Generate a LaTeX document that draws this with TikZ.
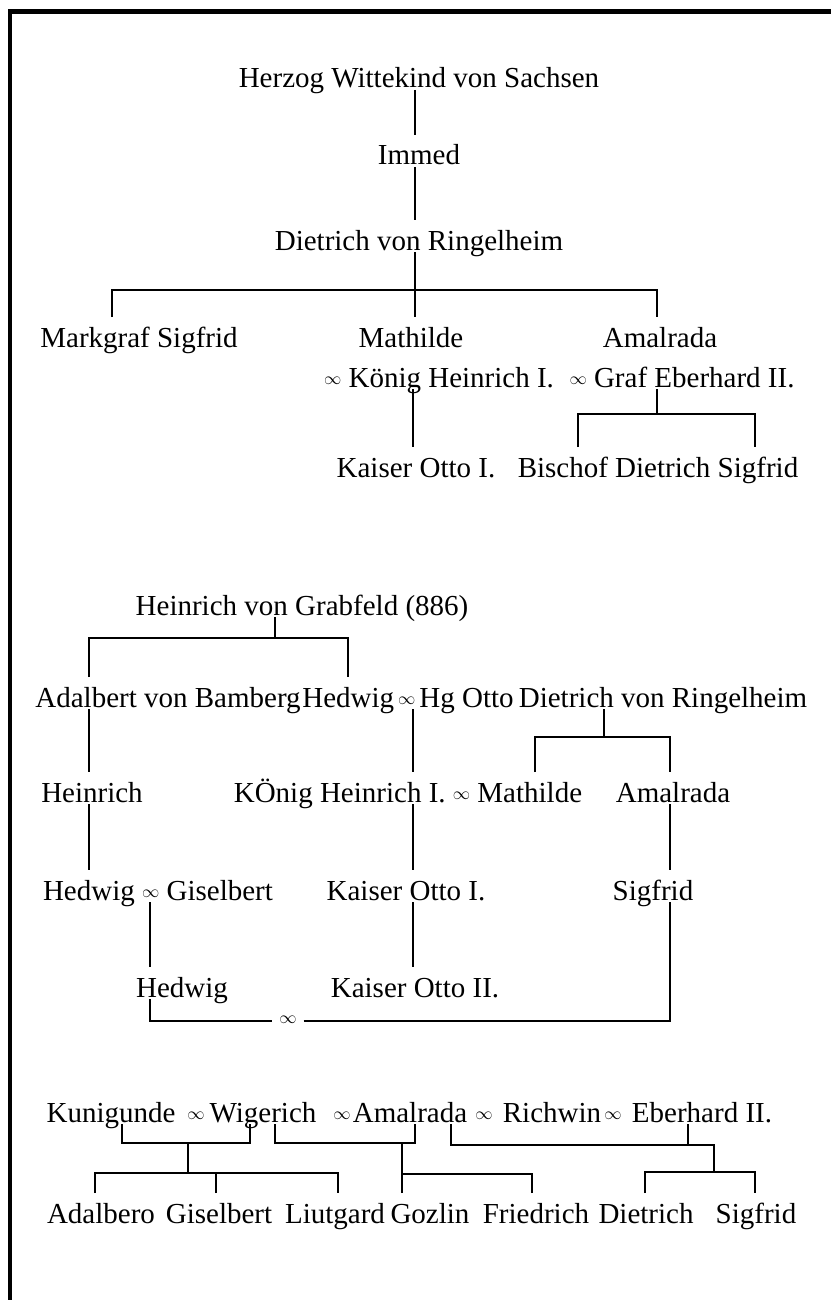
\documentclass[tikz,border=0pt]{standalone}
\usepackage{fontspec}
\setmainfont{Liberation Serif}
\usepackage{tikz}

\newcommand{\marr}{\raisebox{2.5pt}{\fontsize{19pt}{19pt}\selectfont$\infty$}}

\begin{document}
\begin{tikzpicture}[x=1pt, y=-1pt, font=\fontsize{29pt}{34pt}\selectfont,
  person/.style={inner sep=0pt, outer sep=0pt, anchor=base, text height=30pt, text depth=2pt},
  sign/.style={inner sep=0pt, outer xsep=7pt},
  tie/.style={line width=2.8pt}]
  \useasboundingbox (0,0) rectangle (831,1300);
  % frame
  \draw[line width=4.5pt] (10,1300) -- (10,11.5) -- (831,11.5);
  % tree one : Wittekind
  \node[person] (herzog) at (419,88) {Herzog Wittekind von Sachsen};
  \node[person] (immed) at (419,165) {Immed};
  \node[person] (dietrichA) at (419,250) {Dietrich von Ringelheim};
  \node[person] (markgraf) at (139,347) {Markgraf Sigfrid};
  \node[person] (mathilde) at (411,347) {Mathilde};
  \node[person] (amalradaA) at (660,347) {Amalrada};
  \node[person] (koenigA) at (439,387) {\marr\ König Heinrich I.};
  \node[person] (eberhardA) at (682,387) {\marr\ Graf Eberhard II.};
  \node[person] (ottoA) at (416,477) {Kaiser Otto I.};
  \node[person] (bischof) at (614,477) {Bischof Dietrich};
  \node[person] (sigfridA) at (758,477) {Sigfrid};
  \draw[tie] ([xshift=-4pt]herzog.south) -- ([xshift=-4pt]immed.north);
  \draw[tie] ([xshift=-4pt]immed.south) -- ([xshift=-4pt]dietrichA.north);
  \draw[tie] ([xshift=-4pt]dietrichA.south) -- ++(0,38) coordinate (jA);
  \draw[tie] ([xshift=-27pt]markgraf.north) |- (jA) -| ([xshift=-3pt]amalradaA.north);
  \draw[tie] (jA) -- ([xshift=4pt]mathilde.north);
  \draw[tie] ([xshift=-26pt]koenigA.south) -- ([xshift=-3pt]ottoA.north);
  \draw[tie] ([xshift=-25pt]eberhardA.south) -- ++(0,25) coordinate (jB);
  \draw[tie] ([xshift=-36pt]bischof.north) |- (jB) -| ([xshift=-3pt]sigfridA.north);
  % tree two : Grabfeld
  \node[person] (grabfeld) at (302,615) {Heinrich von Grabfeld (886)};
  \node[person] (adalbert) at (168,707) {Adalbert von Bamberg};
  \node[person] (hedwigA) at (408,707) {Hedwig\hspace{4pt}\marr\hspace{4pt}Hg Otto};
  \node[person] (dietrichB) at (663,707) {Dietrich von Ringelheim};
  \node[person] (heinrichB) at (92,802) {Heinrich};
  \node[person] (koenigB) at (408,802) {KÖnig Heinrich I. \marr\ Mathilde};
  \node[person] (amalradaB) at (673,802) {Amalrada};
  \node[person] (hedwigB) at (158,900) {Hedwig \marr\ Giselbert};
  \node[person] (ottoB) at (406,900) {Kaiser Otto I.};
  \node[person] (sigfridB) at (653,900) {Sigfrid};
  \node[person] (hedwigC) at (182,997) {Hedwig};
  \node[person] (ottoC) at (415,997) {Kaiser Otto II.};
  \node[sign] (m0) at (288,1021) {\marr};
  \draw[tie] ([xshift=-27pt]grabfeld.south) -- ++(0,21) coordinate (jC);
  \draw[tie] ([xshift=-79pt]adalbert.north) |- (jC) -| ([xshift=-60pt]hedwigA.north);
  \draw[tie] ([xshift=-79pt]adalbert.south) -- ([xshift=-3pt]heinrichB.north);
  \draw[tie] ([xshift=5pt]hedwigA.south) -- ([xshift=5pt]koenigB.north);
  \draw[tie] ([xshift=-59pt]dietrichB.south) -- ++(0,28) coordinate (jJ);
  \draw[tie] ([xshift=127pt]koenigB.north) |- (jJ) -| ([xshift=-3pt]amalradaB.north);
  \draw[tie] ([xshift=-3pt]heinrichB.south) -- ([xshift=-69pt]hedwigB.north);
  \draw[tie] ([xshift=5pt]koenigB.south) -- ([xshift=7pt]ottoB.north);
  \draw[tie] ([xshift=-3pt]amalradaB.south) -- ([xshift=17pt]sigfridB.north);
  \draw[tie] ([xshift=-8pt]hedwigB.south) -- ([xshift=-32pt]hedwigC.north);
  \draw[tie] ([xshift=7pt]ottoB.south) -- ([xshift=-2pt]ottoC.north);
  \draw[tie] ([xshift=-32pt]hedwigC.south) |- (m0.west);
  \draw[tie] (m0.east) -| ([xshift=17pt]sigfridB.south);
  % tree three : Wigerich
  \node[person] (kunigunde) at (111,1122) {Kunigunde};
  \node[person] (m1) at (196,1122) {\marr};
  \node[person] (wigerich) at (263,1122) {Wigerich};
  \node[person] (m2) at (342,1122) {\marr};
  \node[person] (amalradaC) at (410,1122) {Amalrada};
  \node[person] (m3) at (484,1122) {\marr};
  \node[person] (richwin) at (552,1122) {Richwin};
  \node[person] (m4) at (613,1122) {\marr};
  \node[person] (eberhardC) at (702,1122) {Eberhard II.};
  \node[person] (adalbero) at (101,1223) {Adalbero};
  \node[person] (giselbert) at (219,1223) {Giselbert};
  \node[person] (liutgard) at (335,1223) {Liutgard};
  \node[person] (gozlin) at (430,1223) {Gozlin};
  \node[person] (friedrich) at (536,1223) {Friedrich};
  \node[person] (dietrichC) at (646,1223) {Dietrich};
  \node[person] (sigfridC) at (756,1223) {Sigfrid};
  \draw[tie] ([xshift=11pt]kunigunde.south) -- ++(0,19) -- ++(66,0) coordinate (jD) -| ([xshift=-13pt]wigerich.south);
  \draw[tie] (jD) -- ++(0,30) coordinate (jE);
  \draw[tie] ([xshift=-6pt]adalbero.north) |- (jE) -| ([xshift=3pt]liutgard.north);
  \draw[tie] ([xshift=-3pt]giselbert.north) -- ([xshift=-3pt]giselbert.north |- jE);
  \draw[tie] ([xshift=12pt]wigerich.south) -- ++(0,19) coordinate (jF) -| ([xshift=5pt]amalradaC.south);
  \draw[tie] ([xshift=-28pt]gozlin.north) -- ([xshift=-28pt]gozlin.north |- jF);
  \draw[tie] ([xshift=-4pt]friedrich.north) |- ([xshift=-28pt,yshift=19pt]gozlin.north);
  \draw[tie] ([xshift=41pt]amalradaC.south) -- ++(0,21) -- ++(263,0) coordinate (jH) -- ++(0,27) coordinate (jI);
  \draw[tie] ([xshift=-14pt]eberhardC.south) -- ([xshift=-14pt]eberhardC.south |- jH);
  \draw[tie] ([xshift=-1pt]dietrichC.north) |- (jI) -| ([xshift=-1pt]sigfridC.north);
\end{tikzpicture}
\end{document}
